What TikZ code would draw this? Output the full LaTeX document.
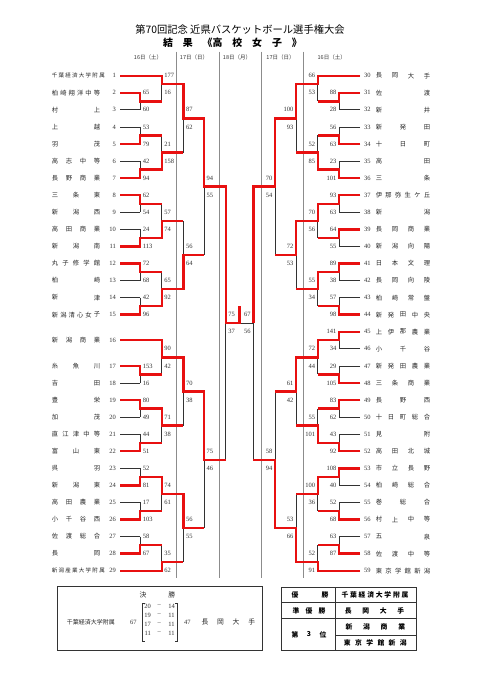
\documentclass[tikz,border=0pt]{standalone}
\usepackage{fontspec}
\setmainfont{Liberation Serif}
\newfontfamily\cjk{Noto Sans CJK JP}
\definecolor{wred}{RGB}{232,16,16}
\definecolor{lin}{RGB}{50,50,50}
\tikzset{
  blk/.style={draw=lin,line width=0.75pt},
  win/.style={draw=wred,line width=2.4pt,line join=miter},
  sep/.style={draw=black!45,line width=0.6pt},
  tn/.style={font=\cjk\fontsize{6.3}{7}\selectfont,inner sep=0pt,text=black!85},
  tns/.style={font=\cjk\fontsize{5.5}{6}\selectfont,inner sep=0pt,text=black!85},
  num/.style={font=\fontsize{6.5}{7}\selectfont,inner sep=0pt,text=black!80},
  hdr/.style={font=\cjk\fontsize{5.5}{6}\selectfont,inner sep=0pt,text=black!80},
  bx/.style={font=\cjk\fontsize{6.8}{7}\selectfont,inner sep=0pt,text=black!85},
  tb/.style={font=\cjk\bfseries\fontsize{6.8}{7}\selectfont,inner sep=0pt},
  boxl/.style={draw=black!80,line width=0.9pt},
}
\newcommand\spread[7]{%
  \foreach \ch [count=\j] in {#7}{%
    \pgfmathsetmacro\xx{#3+(\j-1)*(#4-#3)/(#6-1)}%
    \node[#1] (#2-\j) at (\xx,#5) {\ch};}}
\newcommand\teamL[5][tn]{%
  \ifnum#4=8 \spread{#1}{nl#2}{54.5}{102}{#3}{#4}{#5}\else\spread{#1}{nl#2}{55}{97}{#3}{#4}{#5}\fi
  \node[num,anchor=east] (il#2) at (116,#3) {#2};}
\newcommand\teamR[5][tn]{%
  \spread{#1}{nr#2}{379}{427}{#3}{#4}{#5}%
  \node[num,anchor=west] (ir#2) at (364,#3) {#2};}
\begin{document}
\begin{tikzpicture}[x=1pt,y=-1pt]
\useasboundingbox (0,0) rectangle (481,680);
\fill[white] (0,0) rectangle (481,680);
\node[font=\cjk\fontsize{10.3}{11}\selectfont,inner sep=0pt] (title) at (240,29.3) {第70回記念 近県バスケットボール選手権大会};
\node[font=\cjk\bfseries\fontsize{9.9}{11}\selectfont,inner sep=0pt,anchor=west] (sub) at (162.9,42.7) {結　果　《高　校　女　子　》};
\foreach \x in {176,219,261.7,303.7} \draw[sep] (\x,51.5) -- (\x,578);
\foreach \x/\t [count=\i] in {148/16日（土）,194/17日（日）,237/18日（月）,280.5/17日（日）,331.7/16日（土）}
  \node[hdr] (h\i) at (\x,57.7) {\t};

\begin{scope}[yshift=-75.7pt,y=-17.07pt]
% ---------- team names ----------
\teamL[tns]{1}{0}{8}{千,葉,経,済,大,学,附,属}
\teamL{2}{1}{6}{柏,崎,翔,洋,中,等}
\teamL{3}{2}{2}{村,上}
\teamL{4}{3}{2}{上,越}
\teamL{5}{4}{2}{羽,茂}
\teamL{6}{5}{4}{高,志,中,等}
\teamL{7}{6}{4}{長,野,商,業}
\teamL{8}{7}{3}{三,条,東}
\teamL{9}{8}{3}{新,潟,西}
\teamL{10}{9}{4}{高,田,商,業}
\teamL{11}{10}{3}{新,潟,南}
\teamL{12}{11}{5}{丸,子,修,学,館}
\teamL{13}{12}{2}{柏,崎}
\teamL{14}{13}{2}{新,津}
\teamL{15}{14}{6}{新,潟,清,心,女,子}
\teamL{16}{15.5}{4}{新,潟,商,業}
\teamL{17}{17}{3}{糸,魚,川}
\teamL{18}{18}{2}{吉,田}
\teamL{19}{19}{2}{豊,栄}
\teamL{20}{20}{2}{加,茂}
\teamL{21}{21}{5}{直,江,津,中,等}
\teamL{22}{22}{3}{富,山,東}
\teamL{23}{23}{2}{呉,羽}
\teamL{24}{24}{3}{新,潟,東}
\teamL{25}{25}{4}{高,田,農,業}
\teamL{26}{26}{4}{小,千,谷,西}
\teamL{27}{27}{4}{佐,渡,総,合}
\teamL{28}{28}{2}{長,岡}
\teamL[tns]{29}{29}{8}{新,潟,産,業,大,学,附,属}
\teamR{30}{0}{4}{長,岡,大,手}
\teamR{31}{1}{2}{佐,渡}
\teamR{32}{2}{2}{新,井}
\teamR{33}{3}{3}{新,発,田}
\teamR{34}{4}{3}{十,日,町}
\teamR{35}{5}{2}{高,田}
\teamR{36}{6}{2}{三,条}
\teamR{37}{7}{6}{伊,那,弥,生,ケ,丘}
\teamR{38}{8}{2}{新,潟}
\teamR{39}{9}{4}{長,岡,商,業}
\teamR{40}{10}{4}{新,潟,向,陽}
\teamR{41}{11}{4}{日,本,文,理}
\teamR{42}{12}{4}{長,岡,向,陵}
\teamR{43}{13}{4}{柏,崎,常,盤}
\teamR{44}{14}{5}{新,発,田,中,央}
\teamR{45}{15}{5}{上,伊,那,農,業}
\teamR{46}{16}{3}{小,千,谷}
\teamR{47}{17}{5}{新,発,田,農,業}
\teamR{48}{18}{4}{三,条,商,業}
\teamR{49}{19}{3}{長,野,西}
\teamR{50}{20}{5}{十,日,町,総,合}
\teamR{51}{21}{2}{見,附}
\teamR{52}{22}{4}{高,田,北,城}
\teamR{53}{23}{4}{市,立,長,野}
\teamR{54}{24}{4}{柏,崎,総,合}
\teamR{55}{25}{3}{巻,総,合}
\teamR{56}{26}{4}{村,上,中,等}
\teamR{57}{27}{2}{五,泉}
\teamR{58}{28}{4}{佐,渡,中,等}
\teamR{59}{29}{6}{東,京,学,館,新,潟}

% ---------- black structure ----------
\foreach \k in {1,...,14,17,18,...,28} \draw[blk] (120,\k) -- (140,\k);
\foreach \k in {0,15.5,29} \draw[blk] (120,\k) -- (161.7,\k);
\foreach \a in {1,3,...,13,17,19,...,27} \draw[blk] (140,\a) -- (140,{\a+1});
\foreach \k in {1,...,28} \draw[blk] (360,\k) -- (339,\k);
\foreach \k in {0,29} \draw[blk] (360,\k) -- (317.7,\k);
\foreach \a in {1,3,...,27} \draw[blk] (339,\a) -- (339,{\a+1});
\foreach \a/\b in {0/1.5,3.5/5.5,7.5/9.5,11.5/13.5,15.5/17.5,19.5/21.5,23.5/25.5,27.5/29}
  {\draw[blk] (161.7,\a) -- (161.7,\b); \draw[blk] (317.7,\a) -- (317.7,\b);}
\foreach \a/\b in {0.5/4.5,8.5/12.5,16.5/20.5,24.5/28.5}
  {\draw[blk] (183.3,\a) -- (183.3,\b); \draw[blk] (296,\a) -- (296,\b);}
\foreach \a/\b in {2.5/10.5,18.5/26.5}
  {\draw[blk] (204,\a) -- (204,\b); \draw[blk] (275,\a) -- (275,\b);}
\draw[blk] (225.7,6.5) -- (225.7,22.5);
\draw[blk] (253.3,6.5) -- (253.3,22.5);
\draw[blk] (225.7,14.5) -- (253.3,14.5);

% ---------- winners (red) ----------
\draw[win] (120,0) -- (161.7,0) -- (161.7,0.5) -- (183.3,0.5) -- (183.3,2.5) -- (204,2.5) -- (204,6.5) -- (225.7,6.5) -- (225.7,14.5) -- (239.5,14.5) -- (239.5,13.5);
\draw[win] (120,1) -- (140,1) -- (140,1.5) -- (161.7,1.5);
\draw[win] (120,4) -- (140,4) -- (140,3.5) -- (161.7,3.5);
\draw[win] (120,6) -- (140,6) -- (140,5.5) -- (161.7,5.5) -- (161.7,4.5) -- (183.3,4.5);
\draw[win] (120,7) -- (140,7) -- (140,7.5) -- (161.7,7.5);
\draw[win] (120,10) -- (140,10) -- (140,9.5) -- (161.7,9.5) -- (161.7,8.5) -- (183.3,8.5);
\draw[win] (120,11) -- (140,11) -- (140,11.5) -- (161.7,11.5);
\draw[win] (120,14) -- (140,14) -- (140,13.5) -- (161.7,13.5) -- (161.7,12.5) -- (183.3,12.5) -- (183.3,10.5) -- (204,10.5);
\draw[win] (120,15.5) -- (161.7,15.5) -- (161.7,16.5) -- (183.3,16.5) -- (183.3,18.5) -- (204,18.5) -- (204,22.5) -- (225.7,22.5);
\draw[win] (120,17) -- (140,17) -- (140,17.5) -- (161.7,17.5);
\draw[win] (120,19) -- (140,19) -- (140,19.5) -- (161.7,19.5) -- (161.7,20.5) -- (183.3,20.5);
\draw[win] (120,22) -- (140,22) -- (140,21.5) -- (161.7,21.5);
\draw[win] (120,24) -- (140,24) -- (140,23.5) -- (161.7,23.5) -- (161.7,24.5) -- (183.3,24.5) -- (183.3,26.5) -- (204,26.5);
\draw[win] (120,26) -- (140,26) -- (140,25.5) -- (161.7,25.5);
\draw[win] (120,28) -- (140,28) -- (140,27.5) -- (161.7,27.5);
\draw[win] (120,29) -- (161.7,29) -- (161.7,28.5) -- (183.3,28.5);
\draw[win] (360,0) -- (317.7,0) -- (317.7,0.5) -- (296,0.5) -- (296,2.5) -- (275,2.5) -- (275,6.5) -- (253.3,6.5) -- (253.3,14.5);
\draw[win] (360,1) -- (339,1) -- (339,1.5) -- (317.7,1.5);
\draw[win] (360,4) -- (339,4) -- (339,3.5) -- (317.7,3.5);
\draw[win] (360,6) -- (339,6) -- (339,5.5) -- (317.7,5.5) -- (317.7,4.5) -- (296,4.5);
\draw[win] (360,7) -- (339,7) -- (339,7.5) -- (317.7,7.5) -- (317.7,8.5) -- (296,8.5) -- (296,10.5) -- (275,10.5);
\draw[win] (360,9) -- (339,9) -- (339,9.5) -- (317.7,9.5);
\draw[win] (360,11) -- (339,11) -- (339,11.5) -- (317.7,11.5) -- (317.7,12.5) -- (296,12.5);
\draw[win] (360,14) -- (339,14) -- (339,13.5) -- (317.7,13.5);
\draw[win] (360,15) -- (339,15) -- (339,15.5) -- (317.7,15.5) -- (317.7,16.5) -- (296,16.5) -- (296,18.5) -- (275,18.5);
\draw[win] (360,18) -- (339,18) -- (339,17.5) -- (317.7,17.5);
\draw[win] (360,19) -- (339,19) -- (339,19.5) -- (317.7,19.5);
\draw[win] (360,22) -- (339,22) -- (339,21.5) -- (317.7,21.5) -- (317.7,20.5) -- (296,20.5);
\draw[win] (360,23) -- (339,23) -- (339,23.5) -- (317.7,23.5) -- (317.7,24.5) -- (296,24.5);
\draw[win] (360,26) -- (339,26) -- (339,25.5) -- (317.7,25.5);
\draw[win] (360,28) -- (339,28) -- (339,27.5) -- (317.7,27.5);
\draw[win] (360,29) -- (317.7,29) -- (317.7,28.5) -- (296,28.5) -- (296,26.5) -- (275,26.5) -- (275,22.5) -- (253.3,22.5);

% ---------- scores ----------
\foreach \k/\s in {1/65,2/60,3/53,4/79,5/42,6/94,7/62,8/54,9/24,10/113,11/72,12/68,13/42,14/96,17/153,18/16,19/80,20/49,21/44,22/51,23/52,24/81,25/17,26/103,27/58,28/67}
  \node[num,anchor=west] (sa\k) at (142.6,\k) {\s};
\foreach \k/\s in {0/177,1/16,4/21,5/158,8/57,9/74,12/65,13/92,16/90,17/42,20/71,21/38,24/74,25/61,28/35,29/62}
  \node[num,anchor=west] (sb\k) at (164.2,\k) {\s};
\foreach \k/\s in {2/87,3/62,10/56,11/64,18/70,19/38,26/56,27/55}
  \node[num,anchor=west] (sc\k) at (185.8,\k) {\s};
\foreach \k/\s in {6/94,7/55,22/75,23/46}
  \node[num,anchor=west] (sd\k) at (206.5,\k) {\s};
\foreach \k/\s in {14/75,15/37}
  \node[num,anchor=west] (se\k) at (228.2,\k) {\s};
\foreach \k/\s in {1/88,2/28,3/56,4/63,5/23,6/101,7/93,8/63,9/64,10/55,11/89,12/38,13/57,14/98,15/141,16/34,17/29,18/105,19/83,20/62,21/43,22/92,23/108,24/40,25/52,26/68,27/63,28/87}
  \node[num,anchor=east] (ra\k) at (336.5,\k) {\s};
\foreach \k/\s in {0/66,1/53,4/52,5/85,8/70,9/56,12/55,13/34,16/72,17/44,20/55,21/101,24/100,25/36,28/52,29/91}
  \node[num,anchor=east] (rb\k) at (315.2,\k) {\s};
\foreach \k/\s in {2/100,3/93,10/72,11/53,18/61,19/42,26/53,27/66}
  \node[num,anchor=east] (rc\k) at (293.5,\k) {\s};
\foreach \k/\s in {6/70,7/54,22/58,23/94}
  \node[num,anchor=east] (rd\k) at (272.5,\k) {\s};
\foreach \k/\s in {14/67,15/56}
  \node[num,anchor=east] (re\k) at (250.8,\k) {\s};
\end{scope}

% ---------- final box ----------
\draw[boxl] (57,586.7) rectangle (262.7,650);
\node[bx] (ks1) at (143,595) {決};
\node[bx] (ks2) at (171.7,595) {勝};
\node[font=\cjk\fontsize{6}{6}\selectfont,inner sep=0pt,text=black!85] (fw) at (90.8,622.3) {千葉経済大学附属};
\node[num] (fs1) at (133.3,622.3) {67};
\draw[blk,line width=0.8pt] (144.5,603) -- (142,603) -- (142,641) -- (144.5,641);
\draw[blk,line width=0.8pt] (175,603) -- (177.5,603) -- (177.5,641) -- (175,641);
\foreach \y/\a/\b [count=\i] in {606/20/14,615/19/11,624/17/11,633/11/11}{
  \node[num] (pa\i) at (147.7,\y) {\a};
  \node[num] (pd\i) at (159.3,\y) {–};
  \node[num] (pb\i) at (171.5,\y) {\b};}
\node[num] (fs2) at (187.3,622.3) {47};
\spread{bx}{fl}{205}{251.7}{622.3}{4}{長,岡,大,手}

% ---------- ranking table ----------
\draw[boxl] (281.7,587.3) rectangle (416.7,650.7);
\draw[boxl] (335,587.3) -- (335,650.7);
\draw[boxl] (281.7,602.7) -- (416.7,602.7);
\draw[boxl] (281.7,618.3) -- (416.7,618.3);
\draw[boxl] (335,635) -- (416.7,635);
\spread{tb}{ra}{295}{325}{595}{2}{優,勝}
\spread{tb}{rb}{296}{322}{610.8}{3}{準,優,勝}
\spread{tb}{rc}{295}{323}{634.5}{3}{第,3,位}
\spread{tb}{rd}{345}{405}{595}{8}{千,葉,経,済,大,学,附,属}
\spread{tb}{re}{348.3}{400.7}{610.8}{4}{長,岡,大,手}
\spread{tb}{rf}{349}{401.7}{626.7}{4}{新,潟,商,業}
\spread{tb}{rg}{347.3}{403.3}{642.8}{6}{東,京,学,館,新,潟}
\end{tikzpicture}
\end{document}
